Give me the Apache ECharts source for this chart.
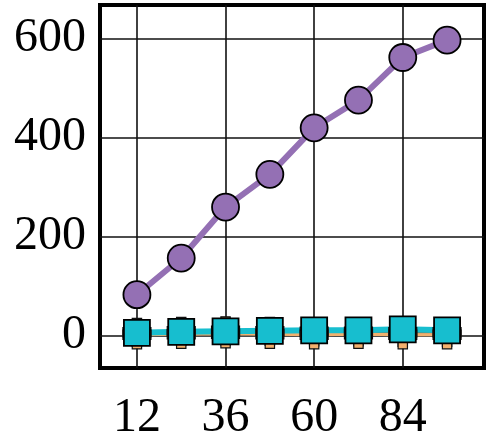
<!DOCTYPE html>
<html>
<head>
<meta charset="utf-8">
<script src="https://cdn.jsdelivr.net/npm/echarts@6/dist/echarts.min.js"></script>
<style>
  html, body { margin: 0; padding: 0; background: #fff; }
  #main { width: 490px; height: 446px; }
</style>
</head>
<body>
<div id="main"></div>
<script>
// x positions of the points
var xValues = [12, 24, 36, 48, 60, 72, 84, 96];
// series values
var purpleVals = [83, 157, 260, 326, 420, 476, 562, 597];
var cyanVals = [6, 8, 9, 10, 11, 11, 13, 11];
var orangeVals = [2, 3, 4, 3, 2, 3, 2, 2];
var brownVals = [7, 9, 10, 9, 8, 8, 7, 7];
// tick labels
var xTicks = [12, 36, 60, 84];
var yTicks = [0, 200, 400, 600];

function pairs(vals) {
    return xValues.map(function (x, i) {
        return [x, vals[i]];
    });
}

var plusPath = 'path://M1,0H2V1H3V2H2V3H1V2H0V1H1Z';
var font = 'Liberation Serif';

var myChart = echarts.init(document.getElementById('main'));
var option = {
    animation: false,
    grid: {
        left: 100,
        right: 6,
        top: 5,
        bottom: 78,
        show: true,
        borderColor: '#000',
        borderWidth: 4,
        backgroundColor: 'transparent'
    },
    xAxis: {
        type: 'value',
        min: 2,
        max: 106,
        axisLine: { show: false },
        axisTick: { show: false, customValues: xTicks },
        axisLabel: {
            customValues: xTicks,
            color: '#000',
            fontFamily: font,
            fontSize: 48,
            margin: 26
        },
        splitLine: { show: true, lineStyle: { color: '#111', width: 1.6 } }
    },
    yAxis: {
        type: 'value',
        min: -65,
        max: 668,
        axisLine: { show: false },
        axisTick: { show: false, customValues: yTicks },
        axisLabel: {
            customValues: yTicks,
            color: '#000',
            fontFamily: font,
            fontSize: 48,
            margin: 14
        },
        splitLine: { show: true, lineStyle: { color: '#111', width: 1.6 } }
    },
    series: [
        {
            type: 'line',
            data: pairs(brownVals),
            symbol: plusPath,
            symbolSize: 28,
            lineStyle: { color: '#8c6a3e', width: 3 },
            itemStyle: { color: '#8c6a3e', borderColor: '#111', borderWidth: 1.2 }
        },
        {
            type: 'line',
            data: pairs(orangeVals),
            symbol: plusPath,
            symbolSize: 28,
            lineStyle: { color: '#f2b06e', width: 3 },
            itemStyle: { color: '#f2b06e', borderColor: '#111', borderWidth: 1.2 }
        },
        {
            type: 'line',
            data: pairs(cyanVals),
            symbol: 'rect',
            symbolSize: 26,
            lineStyle: { color: '#17becf', width: 6 },
            itemStyle: { color: '#17becf', borderColor: '#000', borderWidth: 1.8 }
        },
        {
            type: 'line',
            data: pairs(purpleVals),
            symbol: 'circle',
            symbolSize: 27,
            lineStyle: { color: '#9470b4', width: 6 },
            itemStyle: { color: '#9470b4', borderColor: '#000', borderWidth: 1.8 }
        }
    ]
};
myChart.setOption(option);
</script>
</body>
</html>
